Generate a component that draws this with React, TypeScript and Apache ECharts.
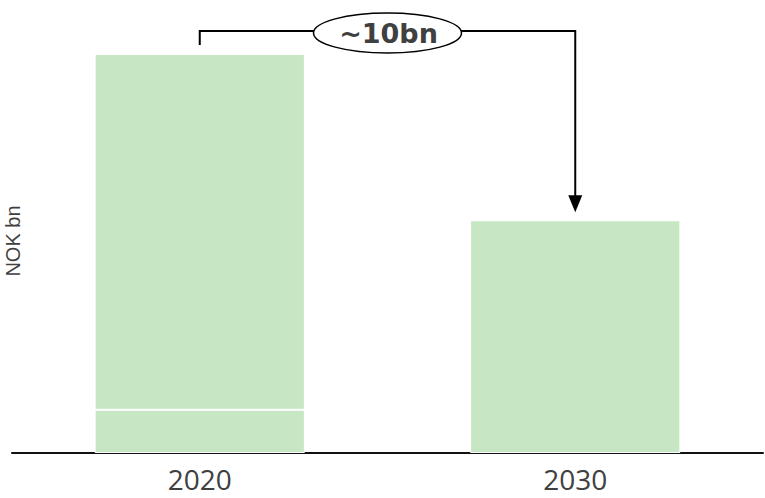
import React, { useEffect, useRef } from "react";
import * as echarts from "echarts";

const categories = ["2020", "2030"];
const baseValues = [2.6, 14];
const upperValues: (number | null)[] = [21.4, null];
const totals = [24, 14];
const annotationLabel = "~10bn";
const yAxisName = "NOK bn";

const BAR_COLOR = "#C7E7C4";
const TEXT_COLOR = "#404040";

export default function App() {
  const ref = useRef<HTMLDivElement>(null);
  useEffect(() => {
    document.body.style.margin = "0";
    if (!ref.current) return;
    const chart = echarts.init(ref.current, null, { renderer: "svg" });
    const barStyle = { color: BAR_COLOR, borderColor: "#ffffff", borderWidth: 1 };
    chart.setOption({
      animation: false,
      grid: { left: 12, right: 2, top: 54, bottom: 45, containLabel: false },
      xAxis: {
        type: "category",
        data: categories,
        axisLine: { show: true, lineStyle: { color: "#111", width: 2 } },
        axisTick: { show: false },
        axisLabel: {
          color: TEXT_COLOR,
          fontSize: 28,
          fontFamily: "Open Sans",
          margin: 12,
        },
      },
      yAxis: {
        type: "value",
        min: 0,
        max: 24,
        show: false,
        splitLine: { show: false },
      },
      series: [
        {
          type: "bar",
          stack: "total",
          data: baseValues,
          barWidth: "56%",
          itemStyle: barStyle,
        },
        {
          type: "bar",
          stack: "total",
          data: upperValues.map((v) => (v == null ? "-" : v)),
          barWidth: "56%",
          itemStyle: barStyle,
        },
      ],
    });

    const p1 = chart.convertToPixel({ gridIndex: 0 }, [categories[0], totals[0]]) as number[];
    const p2 = chart.convertToPixel({ gridIndex: 0 }, [categories[1], totals[1]]) as number[];
    const x1 = p1[0];
    const x2 = p2[0];
    const yTop = 31;
    const leftEnd = p1[1] - 9;
    const tip = p2[1] - 8;
    const midX = (x1 + x2) / 2;

    chart.setOption({
      graphic: [
        {
          type: "polyline",
          shape: { points: [[x1, leftEnd], [x1, yTop], [x2, yTop], [x2, tip - 15]] },
          style: { stroke: "#000", lineWidth: 2, fill: null },
          z: 10,
        },
        {
          type: "polygon",
          shape: { points: [[x2 - 7, tip - 17], [x2 + 7, tip - 17], [x2, tip]] },
          style: { fill: "#000" },
          z: 10,
        },
        {
          type: "ellipse",
          shape: { cx: midX, cy: 33, rx: 74, ry: 20 },
          style: { fill: "#fff", stroke: "#000", lineWidth: 1.5 },
          z: 11,
        },
        {
          type: "text",
          x: midX + 1,
          y: 33,
          style: {
            text: annotationLabel,
            fontFamily: "DejaVu Sans",
            fontWeight: "bold",
            fontSize: 27,
            fill: TEXT_COLOR,
            align: "center",
            verticalAlign: "middle",
          },
          z: 12,
        },
        {
          type: "text",
          x: 13,
          y: 241,
          rotation: Math.PI / 2,
          style: {
            text: yAxisName,
            fontFamily: "Liberation Sans",
            fontSize: 20,
            fill: TEXT_COLOR,
            align: "center",
            verticalAlign: "middle",
          },
        },
      ],
    });

    return () => chart.dispose();
  }, []);
  return <div ref={ref} style={{ width: 765, height: 498 }} />;
}
